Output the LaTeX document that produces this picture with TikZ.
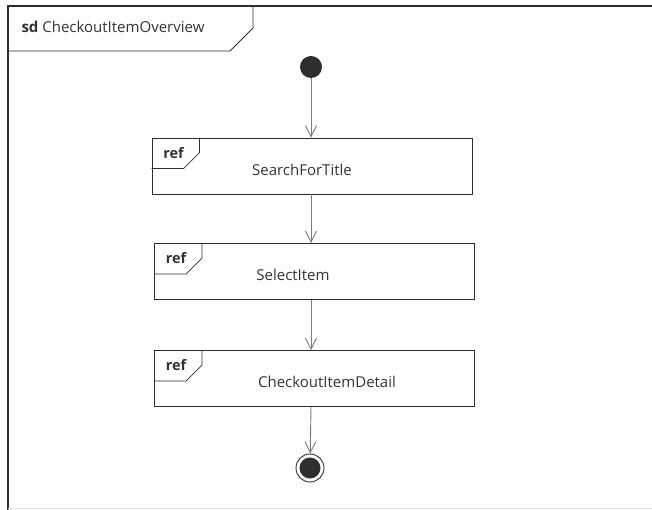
\documentclass[tikz,border=0pt]{standalone}
\usepackage{fontspec}
\setmainfont{Open Sans}
\usepackage{xcolor}
\usetikzlibrary{calc,arrows.meta}

\definecolor{umlline}{HTML}{2E2E2E}
\definecolor{flowline}{HTML}{7A7A7A}
\definecolor{umltext}{HTML}{333333}

\newcommand{\reftag}[1]{%
  \draw[umlline, line width=0.8pt] ($(#1.north west)+(48,0)$) -- ++(0,15) -- ++(-16,16) -- ($(#1.north west)+(0,31)$);
  \node[font=\fontsize{14.5}{17}\bfseries, text=umltext] (#1tag) at ($(#1.north west)+(22,15)$) {ref};}

\begin{document}
\begin{tikzpicture}[x=1pt, y=-1pt,
        font=\fontsize{15}{18}\selectfont,
        refbox/.style={draw=umlline, line width=0.9pt, minimum width=320pt, minimum height=56pt, inner sep=0pt},
        flow/.style={draw=flowline, line width=0.9pt, -{Straight Barb[length=11pt, width=11pt]}},
        initial/.style={circle, fill=umlline, minimum size=22pt, inner sep=0pt},
        final/.style={circle, draw=umlline, fill=white, line width=0.9pt, minimum size=28pt, inner sep=0pt}]
    \useasboundingbox (0,0) rectangle (652,510);
    \draw[umlline, line width=1.2pt] (652,6) -- (8,6) -- (8,510);
    \draw[black!12, line width=0.8pt] (8,508.5) -- (652,508.5);
    \draw[umlline, line width=0.8pt] (8,51) -- (230,51) -- (253,28) -- (253,6);
    \node[anchor=west, text=umltext] (frametitle) at (18,27) {\textbf{sd} CheckoutItemOverview};

    \node[initial] (start) at (311,67) {};
    \node[refbox] (search) at (312,166) {};
    \node[refbox] (select) at (314.5,271.5) {};
    \node[refbox] (detail) at (314.5,378.5) {};
    \node[final] (stop) at (310,468) {};
    \fill[umlline] (stop.center) circle (10.5);

    \reftag{search}
    \reftag{select}
    \reftag{detail}
    \node[text=umltext] (searchtext) at (302,170) {SearchForTitle};
    \node[text=umltext] (selecttext) at (293,275) {SelectItem};
    \node[text=umltext] (detailtext) at (327,382) {CheckoutItemDetail};

    \draw[flow] (start) -- (start |- search.north);
    \draw[flow] (search.south -| start) -- (start |- select.north);
    \draw[flow] (select.south -| start) -- (start |- detail.north);
    \draw[flow] (detail.south -| start) -- (stop);
\end{tikzpicture}
\end{document}
